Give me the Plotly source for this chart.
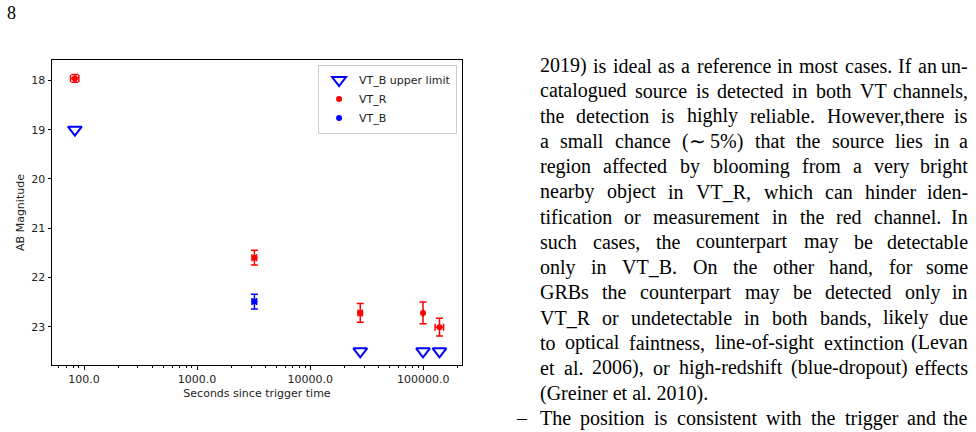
import plotly.graph_objects as go

# ---------------- data ----------------
r_time = [83, 3210, 27700, 99400, 139000]
r_time_err = [7, 150, 1200, 0, 12000]
r_mag = [17.96, 21.60, 22.72, 22.72, 23.01]
r_mag_err = [0.08, 0.15, 0.19, 0.22, 0.18]

b_time = [3210]
b_time_err = [150]
b_mag = [22.49]
b_mag_err = [0.15]

ul_time = [83, 27700, 99400, 139000]
ul_mag = [19.0, 23.5, 23.5, 23.5]

x_tick_vals = [100, 1000, 10000, 100000]
x_tick_text = ["100.0", "1000.0", "10000.0", "100000.0"]
x_minor_vals = [60, 70, 80, 90, 200, 300, 400, 500, 600, 700, 800, 900,
                2000, 3000, 4000, 5000, 6000, 7000, 8000, 9000,
                20000, 30000, 40000, 50000, 60000, 70000, 80000, 90000, 200000]
y_tick_vals = [18, 19, 20, 21, 22, 23]

page_number = "8"
text_lines = [
    "2019) is ideal as a reference in most cases. If an un-",
    "catalogued source is detected in both VT channels,",
    "the detection is highly reliable. However,there is",
    "a small chance (\u223c 5%) that the source lies in a",
    "region affected by blooming from a very bright",
    "nearby object in VT_R, which can hinder iden-",
    "tification or measurement in the red channel. In",
    "such cases, the counterpart may be detectable",
    "only in VT_B. On the other hand, for some",
    "GRBs the counterpart may be detected only in",
    "VT_R or undetectable in both bands, likely due",
    "to optical faintness, line-of-sight extinction (Levan",
    "et al. 2006), or high-redshift (blue-dropout) effects",
    "(Greiner et al. 2010).",
    "The position is consistent with the trigger and the",
]
justified = [True] * 13 + [False, True]
bullet_line = 14

# ---------------- layout constants ----------------
L, R, T, B = 52, 514, 60, 67
W_PLOT = 976 - L - R
H_PLOT = 432 - T - B

RED = "#ff0000"
BLUE = "#0000ff"
SANS = "DejaVu Sans"
SERIF = "Liberation Serif"

fig = go.Figure()

fig.add_trace(go.Scatter(
    x=ul_time, y=ul_mag, mode="markers", name="VT_B upper limit",
    marker=dict(symbol="triangle-down-open", size=12, color=BLUE,
                line=dict(width=2, color=BLUE)),
))
fig.add_trace(go.Scatter(
    x=r_time, y=r_mag, mode="markers", name="VT_R",
    marker=dict(symbol="circle", size=6, color=RED),
    error_y=dict(type="data", array=r_mag_err, color=RED, thickness=1.5, width=3.5),
    error_x=dict(type="data", array=r_time_err, color=RED, thickness=1.5, width=3.5),
))
fig.add_trace(go.Scatter(
    x=b_time, y=b_mag, mode="markers", name="VT_B",
    marker=dict(symbol="circle", size=6, color=BLUE),
    error_y=dict(type="data", array=b_mag_err, color=BLUE, thickness=1.5, width=3.5),
    error_x=dict(type="data", array=b_time_err, color=BLUE, thickness=1.5, width=3.5),
))

fig.update_layout(
    width=976, height=432,
    margin=dict(l=L, r=R, t=T, b=B, pad=0),
    paper_bgcolor="white", plot_bgcolor="white",
    font=dict(family=SANS, size=11, color="#222222"),
    showlegend=True,
    legend=dict(
        x=0.988, xanchor="right", y=0.985, yanchor="top",
        bgcolor="white", bordercolor="#cccccc", borderwidth=1,
        font=dict(family=SANS, size=11, color="#222222"),
        tracegroupgap=0, itemwidth=30,
    ),
    xaxis=dict(
        type="log", range=[1.717, 5.342],
        tickmode="array", tickvals=x_tick_vals, ticktext=x_tick_text,
        ticks="outside", ticklen=3.5, tickwidth=0.8, tickcolor="black",
        minor=dict(tickmode="array", tickvals=x_minor_vals, ticks="outside",
                   ticklen=2, tickwidth=0.6, tickcolor="black", showgrid=False),
        showline=True, mirror=True, linecolor="black", linewidth=1,
        showgrid=False, zeroline=False,
        title=dict(text="Seconds since trigger time", standoff=4,
                   font=dict(size=11, family=SANS, color="#222222")),
    ),
    yaxis=dict(
        range=[23.778, 17.586],
        tickmode="array", tickvals=y_tick_vals,
        ticks="outside", ticklen=3.5, tickwidth=0.8, tickcolor="black",
        showline=True, mirror=True, linecolor="black", linewidth=1,
        showgrid=False, zeroline=False,
        title=dict(text="AB Magnitude", standoff=4,
                   font=dict(size=11, family=SANS, color="#222222")),
    ),
)

# ---------------- page text ----------------
CW = {" ": 250, "!": 333, "%": 833, "(": 333, ")": 333, ",": 250, "-": 333, ".": 250,
      ":": 278, ";": 278, "_": 500, "\u223c": 541, "\u2013": 500,
      "A": 722, "B": 667, "C": 667, "D": 722, "E": 611, "F": 556, "G": 722, "H": 722,
      "I": 333, "J": 389, "K": 722, "L": 611, "M": 889, "N": 722, "O": 722, "P": 556,
      "Q": 722, "R": 667, "S": 556, "T": 611, "U": 722, "V": 722, "W": 944, "X": 722,
      "Y": 722, "Z": 611,
      "a": 444, "b": 500, "c": 444, "d": 500, "e": 444, "f": 333, "g": 500, "h": 500,
      "i": 278, "j": 278, "k": 500, "l": 278, "m": 778, "n": 500, "o": 500, "p": 500,
      "q": 500, "r": 333, "s": 389, "t": 278, "u": 500, "v": 500, "w": 722, "x": 500,
      "y": 500, "z": 444}
FS = 20
X_LEFT, X_RIGHT = 539, 969
Y0, DY = 65.5, 25.2


def px(x):
    return (x - L) / W_PLOT


def py(y):
    return 1 - (y - T) / H_PLOT


def word_w(w):
    return sum(CW.get(c, 500) for c in w) * FS / 1000.0


def add_text(x, y, s, anchor="left", size=FS):
    fig.add_annotation(
        x=px(x), y=py(y), xref="paper", yref="paper", text=s, showarrow=False,
        xanchor=anchor, yanchor="middle", borderpad=0,
        font=dict(family=SERIF, size=size, color="black"),
    )


add_text(6, 13, page_number, size=18)

for i, line in enumerate(text_lines):
    y = Y0 + DY * i
    words = line.split(" ")
    if justified[i] and len(words) > 1:
        widths = [word_w(w) for w in words]
        gap = (X_RIGHT - X_LEFT - sum(widths)) / (len(words) - 1)
        x = X_LEFT
        for j, w in enumerate(words):
            if j == len(words) - 1:
                add_text(X_RIGHT, y, w, anchor="right")
            else:
                add_text(x, y, w)
            x += widths[j] + gap
    else:
        add_text(X_LEFT, y, line)
    if i == bullet_line:
        add_text(515, y, "\u2013")

fig.write_html("out.html")
